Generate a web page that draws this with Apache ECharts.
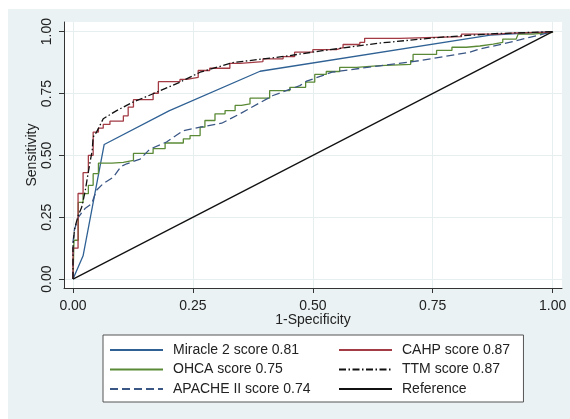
<!DOCTYPE html>
<html>
<head>
<meta charset="utf-8">
<script src="https://cdn.jsdelivr.net/npm/echarts@6/dist/echarts.min.js"></script>
<style>
  html, body { margin: 0; padding: 0; background: #ffffff; }
  #chart { position: absolute; left: 8px; top: 9px; width: 562px; height: 410px; }
</style>
</head>
<body>
<div id="chart"></div>
<script>
// ---- data ----
const tickValues = [0, 0.25, 0.5, 0.75, 1];
const xTitle = '1-Specificity';
const yTitle = 'Sensitivity';
const names = ['Miracle 2 score 0.81', 'CAHP score 0.87', 'OHCA score 0.75',
               'TTM score 0.87', 'APACHE II score 0.74', 'Reference'];

const miracle2 = [[0,0],[0.021,0.094],[0.065,0.544],[0.2,0.68],[0.39,0.84],[0.87,0.986],[1,1]];

const cahp = [[0,0],[0,0.125],[0.0105,0.346],[0.021,0.43],[0.032,0.5],[0.042,0.594],
  [0.053,0.61],[0.063,0.625],[0.077,0.638],[0.105,0.66],[0.115,0.695],[0.126,0.725],
  [0.167,0.751],[0.178,0.798],[0.223,0.807],[0.237,0.815],[0.261,0.843],[0.285,0.852],
  [0.327,0.872],[0.348,0.879],[0.396,0.89],[0.438,0.899],[0.462,0.917],[0.5,0.927],
  [0.549,0.935],[0.563,0.948],[0.598,0.957],[0.608,0.973],[0.681,0.98],[0.81,0.99],
  [0.883,0.995],[0.924,0.998],[1,1]];

const ohca = [[0,0],[0.002,0.157],[0.011,0.31],[0.021,0.345],[0.032,0.379],[0.042,0.426],
  [0.053,0.469],[0.081,0.472],[0.105,0.48],[0.126,0.508],[0.167,0.527],[0.192,0.55],
  [0.23,0.567],[0.244,0.58],[0.265,0.614],[0.275,0.641],[0.296,0.668],[0.317,0.681],
  [0.338,0.702],[0.351,0.708],[0.369,0.731],[0.41,0.762],[0.452,0.775],[0.485,0.796],
  [0.504,0.827],[0.528,0.839],[0.556,0.856],[0.591,0.863],[0.64,0.868],[0.704,0.883],
  [0.709,0.908],[0.758,0.924],[0.79,0.937],[0.82,0.942],[0.848,0.95],[0.876,0.957],
  [0.896,0.97],[0.924,0.975],[0.928,0.99],[0.958,0.997],[1,1]];

const ttm = [[0,0],[0,0.13],[0.003,0.2],[0.007,0.23],[0.011,0.258],[0.018,0.29],
  [0.025,0.352],[0.03,0.41],[0.035,0.467],[0.04,0.52],[0.042,0.574],[0.049,0.594],
  [0.063,0.648],[0.091,0.681],[0.125,0.715],[0.167,0.749],[0.223,0.796],[0.265,0.836],
  [0.333,0.875],[0.44,0.9],[0.52,0.923],[0.64,0.954],[0.77,0.978],[0.88,0.992],[1,1]];

const apache = [[0,0],[0,0.15],[0.003,0.2],[0.011,0.25],[0.025,0.285],[0.039,0.305],
  [0.049,0.359],[0.063,0.386],[0.084,0.412],[0.1,0.455],[0.112,0.466],[0.14,0.485],
  [0.16,0.525],[0.195,0.554],[0.23,0.6],[0.265,0.614],[0.31,0.63],[0.348,0.668],
  [0.417,0.742],[0.473,0.782],[0.487,0.8],[0.54,0.836],[0.6,0.852],[0.64,0.862],
  [0.723,0.883],[0.827,0.917],[0.848,0.93],[0.896,0.95],[0.952,0.977],[1,1]];

const reference = [[0,0],[1,1]];

// ---- chart ----
const chart = echarts.init(document.getElementById('chart'), null, { renderer: 'canvas' });
const font = 'Liberation Sans, Arial, sans-serif';
const txt = '#222222';

function lineSeries(name, data, color, type, step) {
  const s = {
    name: name, type: 'line', data: data, symbol: 'none', showSymbol: false,
    lineStyle: { color: color, width: 1.3, type: type },
    itemStyle: { color: color, opacity: 0 },
    animation: false, silent: true
  };
  if (step) s.step = 'end';
  return s;
}

const axisCommon = {
  type: 'value',
  axisLine: { show: true, onZero: false, lineStyle: { color: '#333333', width: 1 } },
  axisTick: { show: true, inside: false, length: 5, customValues: tickValues,
              lineStyle: { color: '#333333', width: 1 } },
  splitLine: { show: true, lineStyle: { color: '#e6eef0', width: 1 } },
  nameLocation: 'middle',
  nameMoveOverlap: false,
  nameTextStyle: { fontFamily: font, fontSize: 14, color: txt }
};

const legendCommon = {
  orient: 'vertical', top: 327,
  itemWidth: 53, itemHeight: 14, itemGap: 5.5,
  itemStyle: { opacity: 0 },
  textStyle: { fontFamily: font, fontSize: 14, color: txt, padding: [0, 0, 0, 5], lineHeight: 14 },
  selectedMode: false
};

chart.setOption({
  backgroundColor: '#eaf2f3',
  animation: false,
  grid: { left: 56, top: 13, right: 8, bottom: 131, show: true,
          backgroundColor: '#ffffff', borderWidth: 0 },
  xAxis: Object.assign({}, axisCommon, {
    min: -0.0188, max: 1.0195, name: xTitle, nameGap: 25,
    axisLabel: { customValues: tickValues, margin: 11, fontFamily: font, fontSize: 14, color: txt,
                 formatter: v => v.toFixed(2) }
  }),
  yAxis: Object.assign({}, axisCommon, {
    min: -0.036, max: 1.039, name: yTitle, nameGap: 25,
    axisLabel: { customValues: tickValues, margin: 10, rotate: 90, fontFamily: font, fontSize: 14, color: txt,
                 formatter: v => v.toFixed(2) }
  }),
  legend: [
    Object.assign({}, legendCommon, {
      data: [names[0], names[2], names[4]],
      left: 95, top: 326,
      padding: [8, 213, 6, 6],
      backgroundColor: '#ffffff', borderColor: '#555555', borderWidth: 1
    }),
    Object.assign({}, legendCommon, {
      data: [names[1], names[3], names[5]],
      left: 330, top: 326,
      padding: [8, 0, 6, 0]
    })
  ],
  series: [
    lineSeries(names[0], miracle2, '#2f6194', 'solid', false),
    lineSeries(names[2], ohca, '#5b8a36', 'solid', true),
    lineSeries(names[4], apache, '#3a5685', [8, 4], false),
    lineSeries(names[1], cahp, '#a33b45', 'solid', true),
    lineSeries(names[3], ttm, '#111111', [7, 2.5, 1.5, 2.5], false),
    lineSeries(names[5], reference, '#111111', 'solid', false)
  ]
});
</script>
</body>
</html>
